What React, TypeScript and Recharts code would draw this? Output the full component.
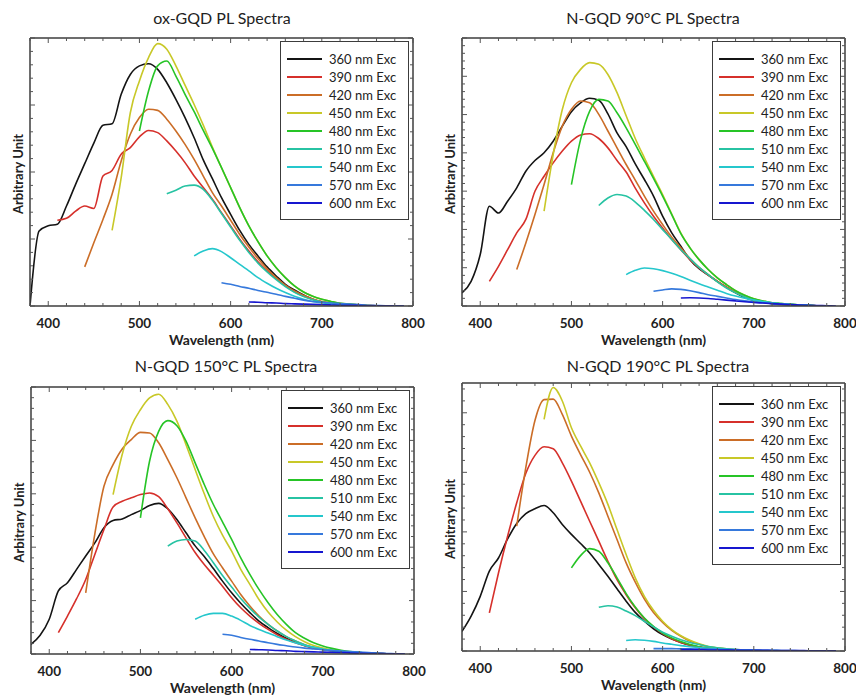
import React from 'react';
import { LineChart, Line, XAxis, YAxis, Legend } from 'recharts';

// excitation wavelengths (nm); each spectrum starts 20 nm above its excitation, sampled every 10 nm
const excitations = [360, 390, 420, 450, 480, 510, 540, 570, 600];
const lineColors = ['#141414', '#d6302b', '#cb6d27', '#c8c828', '#26c426', '#27c3a3', '#25c7cc', '#3679dc', '#1616cf'];
const wavelengthTicks = [380, 400, 420, 440, 460, 480, 500, 520, 540, 560, 580, 600, 620, 640, 660, 680, 700, 720, 740, 760, 780, 800];
const panelTitles = ['ox-GQD PL Spectra', 'N-GQD 90°C PL Spectra', 'N-GQD 150°C PL Spectra', 'N-GQD 190°C PL Spectra'];

// ox-GQD
const ox360 = [0, 28, 29.9, 30.5, 37.3, 45.4, 53.1, 60.8, 67.4, 68, 79, 86.4, 89.6, 90.4, 88.3, 83.3, 77.1, 70.3, 62.8, 54.5, 47.5, 40.4, 34.2, 28.2, 23.0, 18.7, 14.6, 11.2, 8.1, 6.0, 4.1, 2.5, 1.5, 1.0, 0.6, 0.4, 0.2, 0.1, 0.1, 0, 0];
const ox390 = [32.0, 32.7, 35.4, 37.3, 36.4, 48.5, 50.6, 56.6, 59.1, 63.1, 65.5, 64.7, 61.6, 57.8, 53.5, 48.5, 44.2, 39.8, 34.8, 29.9, 24.9, 20.5, 16.5, 13.1, 10.2, 7.5, 5.3, 3.7, 2.5, 1.6, 1.1, 0.7, 0.5, 0.3, 0.2, 0.1, 0.1, 0];
const ox420 = [14.6, 23.6, 32.3, 41.7, 54.1, 64.1, 70.3, 73.4, 73.0, 69.7, 65.3, 60.3, 54.7, 48.5, 42.3, 37.3, 32.0, 26.7, 22.0, 17.7, 13.9, 10.6, 7.8, 5.6, 4.0, 2.6, 1.7, 1.1, 0.7, 0.5, 0.3, 0.2, 0.1, 0.1, 0];
const ox450 = [28.2, 47.9, 72.1, 84.0, 92.7, 97.9, 95.8, 89.6, 82.4, 75.2, 67.5, 59.3, 51.6, 44.2, 36.7, 29.9, 24.0, 18.7, 14.3, 10.6, 7.5, 5.2, 3.6, 2.5, 1.7, 1.0, 0.7, 0.4, 0.2, 0.1, 0.1, 0];
const ox480 = [65.3, 80.2, 89.6, 91.4, 85.8, 79.0, 72.5, 65.5, 58.8, 51.6, 44.2, 36.7, 29.9, 24.0, 18.7, 14.3, 10.6, 7.5, 5.2, 3.6, 2.5, 1.7, 1.0, 0.7, 0.4, 0.2, 0.1, 0.1, 0];
const ox510 = [41.9, 43.2, 44.8, 45.1, 43.5, 39.5, 34.5, 29.5, 24.5, 20.0, 16.0, 12.7, 9.8, 7.2, 5.1, 3.5, 2.3, 1.5, 1.0, 0.6, 0.4, 0.2, 0.1, 0.1, 0];
const ox540 = [18.7, 20.5, 21.4, 20.3, 18.0, 15.5, 13.1, 10.6, 8.5, 6.6, 5.0, 3.6, 2.5, 1.7, 1.2, 0.9, 0.6, 0.4, 0.2, 0.1, 0.1, 0];
const ox570 = [8.7, 8.1, 7.3, 6.6, 5.8, 5.1, 4.4, 3.6, 2.9, 2.2, 1.7, 1.4, 1.1, 0.9, 0.7, 0.5, 0.3, 0.2, 0.1, 0.1, 0];
const ox600 = [1.5, 1.4, 1.2, 1.1, 0.9, 0.8, 0.7, 0.6, 0.5, 0.4, 0.3, 0.3, 0.2, 0.1, 0.1, 0.1, 0, 0];

// N-GQD 90°C
const n90x360 = [4.9, 9.2, 19.2, 37.2, 34.7, 39.1, 44.1, 50.3, 54.3, 57.2, 61.5, 67.1, 72.5, 75.8, 77.5, 76.8, 71.7, 64.6, 59.5, 53.0, 47.2, 41.0, 33.5, 27.3, 22.3, 17.3, 13.9, 11.5, 9.2, 7.0, 4.9, 3.2, 2.1, 1.4, 0.9, 0.6, 0.4, 0.3, 0.2, 0.1, 0];
const n90x390 = [9.2, 14.8, 21.0, 27.3, 32.3, 42.8, 48.4, 53.4, 57.8, 61.5, 63.8, 64.3, 62.5, 59.0, 54.3, 50.0, 44.0, 38.5, 33.5, 29.1, 24.8, 21.0, 17.3, 14.2, 11.5, 9.2, 7.0, 5.1, 3.6, 2.5, 1.7, 1.1, 0.8, 0.5, 0.3, 0.2, 0.1, 0];
const n90x420 = [13.6, 23.5, 34.1, 45.3, 57.2, 67.1, 73.4, 76.5, 75.8, 71.5, 65.3, 59.0, 52.8, 47.0, 41.0, 35.4, 30.4, 25.7, 21.7, 17.7, 14.4, 11.7, 9.2, 7.0, 5.1, 3.6, 2.5, 1.7, 1.1, 0.8, 0.5, 0.3, 0.2, 0.1, 0];
const n90x450 = [35.4, 56.5, 73.3, 83.3, 88.3, 90.8, 90.2, 86.4, 79.6, 71.0, 62.5, 55.3, 48.4, 41.6, 34.3, 27.2, 21.7, 17.3, 13.6, 10.5, 8.0, 5.7, 4.0, 2.7, 1.9, 1.2, 0.9, 0.6, 0.4, 0.3, 0.1, 0];
const n90x480 = [45.3, 62.1, 72.7, 77.1, 76.5, 72.1, 66.5, 60.3, 54.0, 47.6, 41.0, 34.1, 27.0, 21.7, 17.3, 13.6, 10.5, 8.0, 5.7, 4.0, 2.7, 1.9, 1.2, 0.9, 0.6, 0.4, 0.3, 0.1, 0];
const n90x510 = [37.5, 40.3, 41.6, 41.0, 38.8, 35.7, 32.3, 28.5, 24.8, 21.0, 17.7, 14.4, 11.7, 9.0, 6.7, 4.9, 3.4, 2.2, 1.5, 1.0, 0.7, 0.4, 0.2, 0.1, 0];
const n90x540 = [11.7, 13.3, 14.2, 13.9, 13.2, 12.2, 11.0, 9.6, 8.3, 7.1, 5.9, 4.7, 3.7, 2.9, 2.2, 1.7, 1.2, 0.9, 0.6, 0.4, 0.3, 0.1, 0];
const n90x570 = [5.5, 6.0, 6.4, 6.2, 5.7, 5.0, 4.2, 3.6, 3.0, 2.4, 1.9, 1.5, 1.2, 0.9, 0.7, 0.5, 0.3, 0.2, 0.1, 0];
const n90x600 = [3.0, 3.1, 3.0, 2.8, 2.5, 2.2, 1.9, 1.6, 1.3, 1.1, 0.9, 0.7, 0.5, 0.4, 0.3, 0.2, 0.1, 0];

// N-GQD 150°C
const n150x360 = [3.6, 7.0, 13.0, 23.6, 26.7, 31.7, 36.7, 41.6, 47.3, 50.0, 50.6, 52.2, 53.7, 55.6, 56.4, 54.4, 50.4, 45.4, 40.5, 36.5, 32.0, 27.3, 22.9, 19.0, 15.5, 12.3, 9.9, 7.7, 5.9, 4.5, 3.2, 2.4, 1.7, 1.3, 0.9, 0.6, 0.4, 0.3, 0.2, 0.1, 0];
const n150x390 = [8.0, 14.2, 20.7, 27.9, 37.3, 46.6, 55.1, 57.2, 58.5, 59.7, 60.3, 58.9, 54.4, 49.1, 43.5, 38.0, 33.5, 29.5, 25.4, 21.1, 17.3, 14.2, 11.5, 9.2, 7.2, 5.5, 4.2, 3.1, 2.2, 1.7, 1.2, 0.9, 0.6, 0.4, 0.3, 0.2, 0.1, 0];
const n150x420 = [22.9, 45.0, 62.8, 70.9, 76.8, 80.3, 83.0, 82.8, 79.1, 72.8, 66.0, 58.5, 51.0, 44.0, 37.5, 32.3, 27.3, 22.3, 18.0, 14.2, 11.1, 8.6, 6.5, 4.9, 3.5, 2.5, 1.9, 1.4, 1.0, 0.7, 0.5, 0.3, 0.2, 0.1, 0];
const n150x450 = [59.7, 74.7, 85.3, 91.5, 95.9, 97.3, 93.5, 87.2, 78.4, 69.1, 60.0, 51.5, 44.5, 38.5, 31.7, 26.1, 20.4, 15.7, 12.0, 8.9, 6.5, 4.6, 3.2, 2.2, 1.5, 1.0, 0.7, 0.4, 0.2, 0.1, 0.1, 0];
const n150x480 = [51.0, 72.2, 83.4, 87.4, 85.5, 79.7, 71.6, 63.5, 56.0, 49.5, 42.9, 36.0, 29.8, 24.2, 19.2, 14.8, 11.1, 8.0, 5.9, 4.2, 3.0, 2.1, 1.4, 0.9, 0.6, 0.3, 0.2, 0.1, 0];
const n150x510 = [40.4, 42.3, 42.9, 42.3, 38.8, 34.2, 29.4, 25.1, 20.8, 17.1, 13.8, 11.1, 8.6, 6.5, 4.9, 3.5, 2.5, 1.7, 1.2, 0.9, 0.6, 0.4, 0.2, 0.1, 0];
const n150x540 = [13.0, 14.5, 15.2, 15.2, 14.2, 12.6, 10.7, 9.2, 7.9, 6.5, 5.2, 4.2, 3.2, 2.5, 1.9, 1.4, 1.0, 0.7, 0.5, 0.3, 0.2, 0.1, 0];
const n150x570 = [7.4, 7.0, 6.2, 5.5, 4.9, 4.2, 3.6, 3.1, 2.6, 2.2, 1.9, 1.6, 1.3, 1.1, 0.9, 0.7, 0.5, 0.3, 0.2, 0.1, 0];
const n150x600 = [1.7, 1.6, 1.5, 1.3, 1.2, 1.0, 0.9, 0.8, 0.7, 0.6, 0.5, 0.4, 0.3, 0.2, 0.2, 0.1, 0.1, 0];

// N-GQD 190°C
const n190x360 = [7.3, 13.0, 20.4, 29.8, 34.7, 41.8, 47.6, 51.3, 53.1, 54.3, 51.6, 47.2, 43.5, 40.1, 36.6, 32.3, 27.9, 23.2, 18.6, 14.4, 11.1, 8.3, 6.1, 4.5, 3.2, 2.2, 1.5, 1.0, 0.7, 0.5, 0.3, 0.2, 0.1, 0.1, 0];
const n190x390 = [14.2, 29.1, 42.8, 55.3, 66.3, 73.0, 76.2, 75.5, 70.2, 63.4, 55.9, 48.4, 41.0, 33.5, 26.6, 21.0, 16.1, 12.1, 9.0, 6.5, 4.6, 3.2, 2.2, 1.5, 1.0, 0.7, 0.5, 0.3, 0.2, 0.1, 0.1, 0];
const n190x420 = [46.6, 68.5, 86.0, 93.8, 94.0, 88.3, 80.2, 73.3, 66.7, 59.0, 50.3, 41.6, 32.9, 25.7, 19.4, 14.4, 10.7, 7.7, 5.5, 3.7, 2.5, 1.6, 1.1, 0.7, 0.4, 0.3, 0.2, 0.1, 0.1, 0];
const n190x450 = [86.4, 98.3, 93.3, 83.3, 76.5, 70.2, 62.8, 54.7, 45.3, 36.0, 27.3, 20.4, 15.2, 11.1, 8.0, 5.7, 4.0, 2.7, 1.7, 1.2, 0.8, 0.5, 0.3, 0.2, 0.1, 0];
const n190x480 = [31.0, 35.6, 38.2, 37.2, 32.9, 27.3, 21.4, 16.4, 12.3, 9.2, 6.7, 4.9, 3.5, 2.4, 1.6, 1.0, 0.7, 0.5, 0.3, 0.2, 0.1, 0];
const n190x510 = [16.3, 16.9, 16.4, 14.9, 13.2, 11.1, 9.0, 7.0, 5.5, 4.2, 3.2, 2.4, 1.7, 1.2, 0.8, 0.5, 0.3, 0.2, 0.1, 0];
const n190x540 = [3.9, 4.2, 4.0, 3.6, 3.0, 2.5, 2.0, 1.6, 1.3, 1.0, 0.8, 0.6, 0.5, 0.4, 0.3, 0.2, 0.2, 0.1, 0.1, 0];
const n190x570 = [0.9, 0.9, 0.9, 0.8, 0.8, 0.7, 0.7, 0.6, 0.5, 0.5, 0.4, 0.4, 0.3, 0.3, 0.2, 0.2, 0.1, 0.1, 0.1, 0.1, 0.1];
const n190x600 = [0.5, 0.5, 0.5, 0.4, 0.4, 0.4, 0.3, 0.3, 0.3, 0.3, 0.2, 0.2, 0.2, 0.2, 0.1, 0.1, 0.1, 0.1];

const FONT = 'Lato, "Open Sans", sans-serif';
const FRAME = '#3c3c3c';
const TICK = '#555555';
const CHART_W = 428;
const CHART_H = 352;

// plot layout for the four panels (chart origin on the page + margins around the plot box;
// each axis is 1px thick so the margins are one less than the plot offset)
const panels = [
  { title: panelTitles[0], series: [ox360, ox390, ox420, ox450, ox480, ox510, ox540, ox570, ox600], divisions: 4, left: 0, top: 0, margin: { top: 37, right: 14, bottom: 45, left: 29 }, titleX: 222, titleY: 18 },
  { title: panelTitles[1], series: [n90x360, n90x390, n90x420, n90x450, n90x480, n90x510, n90x540, n90x570, n90x600], divisions: 7, left: 428, top: 0, margin: { top: 37, right: 10, bottom: 45, left: 33 }, titleX: 653, titleY: 18 },
  { title: panelTitles[2], series: [n150x360, n150x390, n150x420, n150x450, n150x480, n150x510, n150x540, n150x570, n150x600], divisions: 5, left: 0, top: 345, margin: { top: 41, right: 13, bottom: 42, left: 30 }, titleX: 226, titleY: 366 },
  { title: panelTitles[3], series: [n190x360, n190x390, n190x420, n190x450, n190x480, n190x510, n190x540, n190x570, n190x600], divisions: 4.5, left: 428, top: 345, margin: { top: 37, right: 10, bottom: 45, left: 33 }, titleX: 658, titleY: 366 },
];

const toPoints = (start: number, values: number[]) => values.map((v, i) => ({ wl: start + 10 * i, v }));

const BottomTick = (props: any) => {
  const { x, y, payload } = props;
  const major = payload.value % 100 === 0;
  return (
    <g>
      <line x1={x} x2={x} y1={y} y2={y - (major ? 5 : 3)} stroke={TICK} strokeWidth={1} />
      {major && (
        <text x={x} y={y + 21.5} textAnchor="middle" fontFamily={FONT} fontWeight={700} fontSize={13.5} fill="#222">
          {payload.value}
        </text>
      )}
    </g>
  );
};

const TopTick = (props: any) => {
  const { x, y, payload } = props;
  const major = payload.value % 100 === 0;
  return <line x1={x} x2={x} y1={y} y2={y + (major ? 5 : 3)} stroke={TICK} strokeWidth={1} />;
};

const SideTick = (props: any) => {
  const { x, y, payload, step, side } = props;
  const ratio = payload.value / step;
  const major = Math.abs(ratio - Math.round(ratio)) < 1e-6;
  const dir = side === 'left' ? 1 : -1;
  return <line x1={x} x2={x + dir * (major ? 5 : 3)} y1={y} y2={y} stroke={TICK} strokeWidth={1} />;
};

const xTitle = (props: any) => {
  const vb = props.viewBox || {};
  return (
    <text x={vb.x + vb.width / 2} y={vb.y + 33} textAnchor="middle" dominantBaseline="central" fontFamily={FONT} fontWeight={700} fontSize={14} fill="#222">
      Wavelength (nm)
    </text>
  );
};

const yTitle = (props: any) => {
  const vb = props.viewBox || {};
  const cx = vb.x - 11.5;
  const cy = vb.y + vb.height / 2 + 2;
  return (
    <text x={cx} y={cy} transform={`rotate(-90 ${cx} ${cy})`} textAnchor="middle" dominantBaseline="central" fontFamily={FONT} fontWeight={700} fontSize={13} fill="#222">
      Arbitrary Unit
    </text>
  );
};

const renderLegend = (props: any) => (
  <div style={{ width: 129, height: 179, boxSizing: 'border-box', border: `1.5px solid ${FRAME}`, background: '#fff', padding: '8px 0 0 5.5px' }}>
    {(props.payload || []).map((entry: any) => (
      <div key={entry.value} style={{ display: 'flex', alignItems: 'center', height: 18.1 }}>
        <svg width={35} height={4} style={{ display: 'block' }}>
          <line x1={0} x2={35} y1={2} y2={2} stroke={entry.color} strokeWidth={2} />
        </svg>
        <span style={{ marginLeft: 7.5, fontFamily: FONT, fontSize: 13, color: '#222', lineHeight: '18px', whiteSpace: 'nowrap' }}>
          {entry.value}
        </span>
      </div>
    ))}
  </div>
);

const SpectraPanel = ({ panel }: { panel: (typeof panels)[number] }) => {
  const { title, series, divisions, left, top, margin, titleX, titleY } = panel;
  const major = 100 / divisions;
  const minor = major / 5;
  const yTicks: number[] = [];
  for (let k = 0; k * minor <= 100 + 1e-9; k++) yTicks.push(k * minor);

  return (
    <>
      <div
        style={{
          position: 'absolute', left: titleX - 200, top: titleY - 10, width: 400, textAlign: 'center',
          fontFamily: FONT, fontSize: 16, lineHeight: '20px', color: '#222',
        }}
      >
        {title}
      </div>
      <div style={{ position: 'absolute', left, top, width: CHART_W, height: CHART_H }}>
        <LineChart width={CHART_W} height={CHART_H} margin={margin}>
          <XAxis
            xAxisId="bottom" type="number" dataKey="wl" domain={[380, 800]} ticks={wavelengthTicks} interval={0}
            allowDataOverflow height={1} tickSize={0} tickMargin={0} tickLine={false} tick={<BottomTick />}
            axisLine={{ stroke: FRAME, strokeWidth: 1.5 }} label={xTitle}
          />
          <XAxis
            xAxisId="top" orientation="top" type="number" dataKey="wl" domain={[380, 800]} ticks={wavelengthTicks} interval={0}
            allowDataOverflow height={1} tickSize={0} tickMargin={0} tickLine={false} tick={<TopTick />}
            axisLine={{ stroke: FRAME, strokeWidth: 1.5 }}
          />
          <YAxis
            yAxisId="left" type="number" domain={[0, 100]} ticks={yTicks} interval={0} allowDataOverflow width={1}
            tickSize={0} tickMargin={0} tickLine={false} tick={<SideTick step={major} side="left" />}
            axisLine={{ stroke: FRAME, strokeWidth: 1.5 }} label={yTitle}
          />
          <YAxis
            yAxisId="right" orientation="right" type="number" domain={[0, 100]} ticks={yTicks} interval={0} allowDataOverflow width={1}
            tickSize={0} tickMargin={0} tickLine={false} tick={<SideTick step={major} side="right" />}
            axisLine={{ stroke: FRAME, strokeWidth: 1.5 }}
          />
          <Legend
            layout="horizontal" verticalAlign="middle" align="center" content={renderLegend}
            wrapperStyle={{ left: margin.left + 251, top: margin.top + 3.5, width: 129, height: 179 }}
          />
          {series.map((values, i) => (
            <Line
              key={excitations[i]}
              xAxisId="bottom"
              yAxisId="left"
              type="monotone"
              data={toPoints(excitations[i] + 20, values)}
              dataKey="v"
              name={`${excitations[i]} nm Exc`}
              stroke={lineColors[i]}
              strokeWidth={1.6}
              dot={false}
              activeDot={false}
              isAnimationActive={false}
            />
          ))}
        </LineChart>
      </div>
    </>
  );
};

export default function App() {
  return (
    <div style={{ position: 'absolute', left: 0, top: 0, width: 857, height: 695, background: '#fff', overflow: 'hidden' }}>
      {panels.map((p) => (
        <SpectraPanel key={p.title} panel={p} />
      ))}
    </div>
  );
}
